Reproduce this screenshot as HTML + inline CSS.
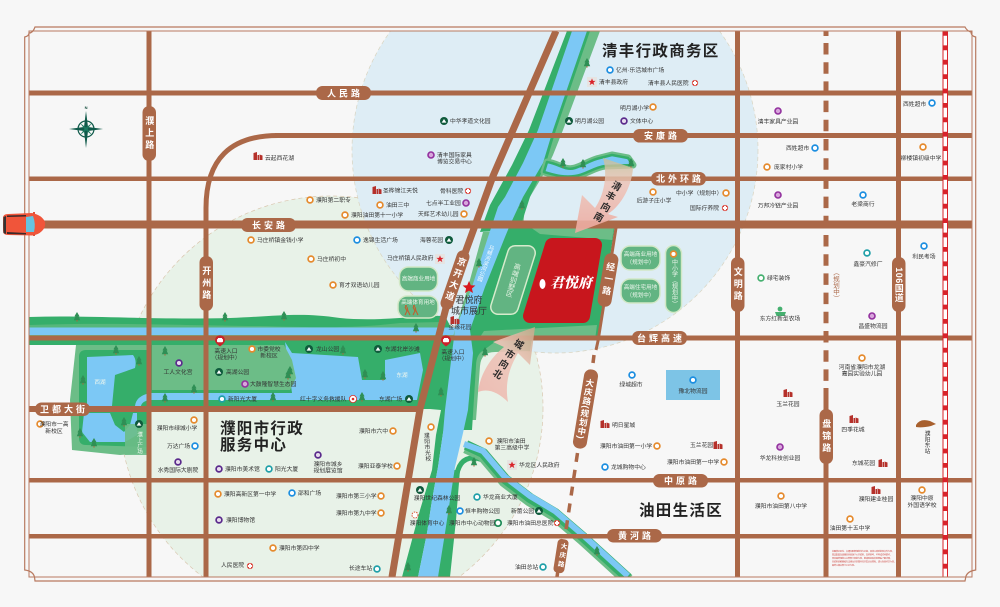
<!DOCTYPE html>
<html lang="zh">
<head>
<meta charset="utf-8">
<title>君悦府区位图</title>
<style>
html,body{margin:0;padding:0;background:#f7f7f7;width:1000px;height:607px;overflow:hidden}
svg{display:block}
text{font-family:"Liberation Sans","Noto Sans CJK SC",sans-serif}
.l{font-size:5.8px;fill:#333}
.m{font-size:5.8px;fill:#333;text-anchor:middle}
.w{font-size:5.6px;fill:#eef7ee;text-anchor:middle}
.p{font-size:9px;fill:#fff;text-anchor:middle;font-weight:700;letter-spacing:3px}
.pv{font-size:9px;fill:#fff;text-anchor:middle;font-weight:700;letter-spacing:3px;writing-mode:vertical-rl}
.vt{writing-mode:vertical-rl;text-anchor:middle}
.zone{font-size:15.5px;font-weight:700;fill:#222;letter-spacing:1.3px}
.ar{font-size:9.5px;font-weight:700;fill:#2a2a2a;text-anchor:middle}
.fine{font-size:2px;fill:#c8322c}
</style>
</head>
<body>
<svg xmlns="http://www.w3.org/2000/svg" width="1000" height="607" viewBox="0 0 1000 607">
<defs>
<clipPath id="cp"><rect x="29" y="31" width="943" height="546"/></clipPath>
<linearGradient id="gs" x1="0" y1="0" x2="0" y2="1"><stop offset="0" stop-color="#c9bf94" stop-opacity=".75"/><stop offset=".35" stop-color="#eec4b8" stop-opacity=".85"/><stop offset="1" stop-color="#eeaaa0" stop-opacity=".9"/></linearGradient>
<linearGradient id="gn" x1="1" y1="0" x2="0" y2="1"><stop offset="0" stop-color="#c9a98a" stop-opacity=".85"/><stop offset=".4" stop-color="#eec4b8" stop-opacity=".9"/><stop offset="1" stop-color="#edb9b0" stop-opacity=".95"/></linearGradient>
<g id="o"><circle r="2.9" fill="#fff" stroke="#e58a2d" stroke-width="1.7"/></g>
<g id="b"><circle r="2.9" fill="#fff" stroke="#1c8ee0" stroke-width="1.7"/></g>
<g id="t"><circle r="2.9" fill="#fff" stroke="#1f9fa8" stroke-width="1.7"/></g>
<g id="q"><circle r="3" fill="#d8a6dc" stroke="#92309e" stroke-width="1.6"/></g>
<g id="v"><circle r="2.9" fill="#e7dcee" stroke="#5a2a8c" stroke-width="1.7"/></g>
<g id="g"><circle r="4" fill="#0f5a3c"/><path d="M-2.4,1.6 L0,-2 L2.4,1.6Z" fill="#fff"/></g>
<g id="c"><circle r="3.1" fill="#d83a30"/><path d="M-1,-2.2H1V-1H2.2V1H1V2.2H-1V1H-2.2V-1H-1Z" fill="#fff"/></g>
<g id="h"><path d="M-4.5,4V-3L-1,-4V4ZM-0.5,4V-1H1V4ZM1.5,4V-1.5L4.5,-0.5V4Z" fill="#b5302a"/></g>
<g id="s"><path d="M0,-3.6 L1,-1.1 3.6,-1.1 1.5,.5 2.3,3.1 0,1.5 -2.3,3.1 -1.5,.5 -3.6,-1.1 -1,-1.1Z" fill="#d9232a"/></g>
<g id="r"><path d="M0,-6 L2.6,-1.6H1.6L3.2,2.2H-3.2L-1.6,-1.6H-2.6Z" fill="#2f8f55"/><rect x="-.5" y="2" width="1" height="1.6" fill="#a8653a"/></g>
<g id="pin"><path d="M0,5.5 C-2,3.8 -5,2 -5,-.8 A5,5 0 1 1 5,-.8 C5,2 2,3.8 0,5.5Z" fill="#c9222a"/><rect x="-3" y="-2.2" width="6" height="3.4" rx="1" fill="#fff"/><rect x="-2" y="-3" width="4" height="1.2" fill="#fff"/></g>
</defs>
<rect width="1000" height="607" fill="#f7f7f7"/>

<g clip-path="url(#cp)">
<circle cx="331" cy="408" r="212" fill="#e8f2e8" stroke="#d9c6ae" stroke-width=".7" stroke-dasharray="4 3"/>
<circle cx="555" cy="150" r="203" fill="#deedf5" stroke="#d9d4c0" stroke-width=".7" stroke-dasharray="4 3"/>

<path d="M29,317 C90,315 150,320 230,318 C280,316 300,312 340,318 C380,322 420,315 445,316 L460,345 L29,345Z" fill="#35ae6a"/>
<path d="M29,325 C120,322 200,326 260,326 C300,327 350,329 400,323 L440,322 L440,329 L29,329Z" fill="#6cbd87" opacity=".6"/>
<rect x="29" y="327.5" width="430" height="7.5" fill="#7cc8f5"/>
<rect x="29" y="335" width="430" height="3" fill="#6cbd87"/>

<rect x="150" y="340" width="290" height="69" fill="#35ae6a"/>
<path d="M150,393 H292 L285,342 L292,353 L358,357 L362,380 L385,380 L385,360 L420,353 L423,370 L417,400 H150Z" fill="#7cc8f5"/>
<path d="M152,345 H284 L292,360 L296,378 L290,390 H152Z" fill="#6cbd87"/>
<path d="M76,345 H148 V453 L120,455 L72,450 L70,400Z" fill="#6cbd87"/>
<path d="M86,350 H148 V447 L86,445 Q79,445 79,438 V357 Q79,350 86,350Z" fill="#35ae6a"/>
<path d="M87,357 L133,355 Q137,360 135,368 L115,375 L112,406 H87Z" fill="#7cc8f5"/>
<path d="M84,413 H110 L115,425 L124,432 L130,425 L133,413 H137 L137,435 L125,442 H90 L82,432Z" fill="#7cc8f5"/>
<path d="M135,406 Q136,396 150,393 V400 Q142,401 141,406Z" fill="#7cc8f5"/>
<rect x="125" y="424" width="25" height="31" fill="#6cbd87" opacity=".9"/>

<path d="M600,31 L563,130 L553,155 L545,172 L525,205 L523,228 L483,232 L468,287 L452,340 L484,340 L500,228 L483,228 L498,197 L518,163 L533,130 L567,31Z" fill="#6cbd87"/>
<path d="M590,31 L556,130 L546,163 L530,197 L520,228 L480,232 L490,205 L512,165 L529,130 L567,31Z" fill="#35ae6a"/>
<path d="M498,225 L615,225 L597,340 L452,340 L470,300Z" fill="#35ae6a"/>
<path d="M530,227 L614,227 L612,240 L540,234Z" fill="#6cbd87"/>
<path d="M484,331 L597,325 L595,340 L478,340Z" fill="#6cbd87"/>
<path d="M468,338 H532 L530,351 L495,352 Q481,352 480,366 L476,420 L466,420Z" fill="#6cbd87"/>
<path d="M468,338 H500 L484,350 Q476,354 476,366 L472,430 L462,430Z" fill="#35ae6a"/>
<path d="M433,338 H455 L450,400 L443,433 L438,467 L432,500 L427,533 L418,577 L402,577 L420,510 L432,470 L436,435 L441,410 L430,409Z" fill="#35ae6a"/>
<path d="M446,577 L452,520 L456,480 Q458,458 473,458 Q485,458 495,470" fill="none" stroke="#35ae6a" stroke-width="5"/>
<path d="M436,577 H450 L456,520 L460,470 L450,470 L440,530Z" fill="#35ae6a"/>
<path d="M587,31 L553,130 L543,163 L523,197 L510,225 L505,237 L485,287 L470,330 L473,353 L468,410 L463,433 L455,467 L450,500 L445,533 L438,577 L418,577 L427,533 L432,500 L438,467 L443,433 L445,410 L452,353 L455,330 L472,287 L488,237 L498,207 L505,197 L523,163 L538,130 L572,31Z" fill="#7cc8f5"/>

<path d="M547,162 C560,164 565,171 575,168 C585,165 590,160 600,158 L612,155 L628,158 L633,165 L605,166 C595,167 585,175 575,176 C562,178 552,174 544,172Z" fill="#7cc8f5" stroke="#6cbd87" stroke-width="7" stroke-linejoin="round"/>
<path d="M547,162 C560,164 565,171 575,168 C585,165 590,160 600,158 L612,155 L628,158 L633,165 L605,166 C595,167 585,175 575,176 C562,178 552,174 544,172Z" fill="#7cc8f5" stroke="#35ae6a" stroke-width="2.5" stroke-linejoin="round"/>

<path d="M466,447 L483,455 L505,481 L530,500 L555,515 L583,539 L605,559 L628,580" fill="none" stroke="#6cbd87" stroke-width="13"/>
<path d="M466,445 L483,453 L505,479 L530,498 L555,513 L583,537 L605,557 L628,578" fill="none" stroke="#35ae6a" stroke-width="10"/>
<path d="M464,444 L483,451 L505,477 L530,496 L555,511 L583,535 L605,555 L628,576" fill="none" stroke="#7cc8f5" stroke-width="6"/>

<rect x="666" y="370" width="54" height="30" fill="#7dc4e6"/>

<g fill="#ab6848">
<rect x="29" y="90.5" width="943" height="5"/>
<rect x="275" y="133" width="697" height="5"/>
<rect x="29" y="176.5" width="943" height="4.5"/>
<rect x="42" y="220.5" width="930" height="8"/>
<rect x="29" y="335.5" width="943" height="5"/>
<rect x="29" y="406" width="392" height="6"/>
<rect x="29" y="478" width="943" height="4.5"/>
<rect x="29" y="534" width="943" height="4.5"/>
<rect x="146.5" y="31" width="5" height="546"/>
<rect x="735" y="31" width="5" height="546"/>
<rect x="896" y="31" width="5" height="546"/>
<rect x="823.5" y="31" width="5" height="5"/>
<rect x="823.5" y="388" width="5" height="189"/>
</g>
<path d="M206,577 V208 Q206,135 279,135.5" fill="none" stroke="#ab6848" stroke-width="5"/>
<path d="M826,43 V388" fill="none" stroke="#ab6848" stroke-width="5" stroke-dasharray="11.5 7.7"/>
<path d="M556,31 L493,176 L448,300 L420,409 L392,577" fill="none" stroke="#ab6848" stroke-width="7"/>
<path d="M616,228 L598,341 L596,350" fill="none" stroke="#ab6848" stroke-width="3"/>
<path d="M594,355 L593,363" fill="none" stroke="#ab6848" stroke-width="3.5"/>
<path d="M577.5,453 L566,530" fill="none" stroke="#ab6848" stroke-width="3.5" stroke-dasharray="9 8"/>
<path d="M558,570 L557,577" fill="none" stroke="#ab6848" stroke-width="3.5"/>
<rect x="943" y="31" width="5" height="546" fill="#fff"/>
<path d="M943,31V577M947.5,31V577" stroke="#d8232a" stroke-width="1" fill="none"/>
<path d="M945.2,31V577" stroke="#d8232a" stroke-width="4.5" stroke-dasharray="4.8 9.6" fill="none"/>
</g>

<path d="M35,27 H965 Q967,31 971,32 Q971,36 975.7,37 V570 Q968,571 966,576 L965,581 H35 L34.5,577 Q33,571 24.7,570 V37 Q29,36 29,33 Q33,33 35,27Z" fill="none" stroke="#b87a60" stroke-width="1.2"/>
<rect x="29" y="31" width="943" height="546" fill="none" stroke="#b87a60" stroke-width="1"/>

<path d="M552,245 H595 L583,316 H530Z" fill="#c8161d" stroke="#c8161d" stroke-width="14" stroke-linejoin="round"/>
<ellipse cx="542.5" cy="284" rx="3" ry="5" fill="#fff"/>
<text x="571" y="287.5" text-anchor="middle" style="font-family:'Noto Serif CJK SC',serif;font-size:14px;font-weight:900;fill:#fff;font-style:italic">君悦府</text>

<path d="M515,253 L528,253 L511,307 L498,307Z" fill="#62b482" stroke="#d6ebcc" stroke-width="16" stroke-linejoin="round"/>
<path d="M515,253 L528,253 L511,307 L498,307Z" fill="#62b482" stroke="#62b482" stroke-width="13" stroke-linejoin="round"/>
<text transform="translate(513,280) rotate(16)" class="vt" style="font-size:7px;fill:#e8f4e6">高端别墅区</text>
<text transform="translate(485,263) rotate(20)" class="vt" style="font-size:5.5px;fill:#fff">马颊河滨河公园</text>

<g fill="#62b482" stroke="#d2e8c6" stroke-width="1.5">
<rect x="621" y="246" width="39" height="24" rx="9"/>
<rect x="621" y="279" width="39" height="24" rx="9"/>
<rect x="665.5" y="245.5" width="16" height="67" rx="8"/>
<rect x="399.5" y="267" width="38" height="24" rx="9"/>
<rect x="398" y="296" width="40" height="22" rx="9"/>
</g>
<text x="640.5" y="256" class="w">高端商业用地</text>
<text x="640.5" y="264" class="w">（规划中）</text>
<text x="640.5" y="289" class="w">高端住宅用地</text>
<text x="640.5" y="297" class="w">（规划中）</text>
<use href="#o" x="673.5" y="254"/>
<text x="673.5" y="283" class="vt" style="font-size:6px;fill:#eef7ee">中小学（规划中）</text>
<text x="418.5" y="280.5" class="w">高端商业用地</text>
<text x="418" y="304" class="w">高端体育用地</text>
<path d="M405,307l2,4-2,4M407,307l1,4 2,4M413,307l2,4-2,4M415,307l1,4 2,4" stroke="#c65a2a" stroke-width="1" fill="none"/>
<circle cx="406" cy="306" r="1" fill="#c65a2a"/><circle cx="414" cy="306" r="1" fill="#c65a2a"/>

<path d="M603,158 L633,168 C632,185 622,205 608,214 L618,217 L575,233 L582,195 L595,208 C604,195 608,175 603,158Z" fill="url(#gs)"/>
<text transform="translate(615,189) rotate(30)" class="ar">清</text>
<text transform="translate(609,199) rotate(30)" class="ar">丰</text>
<text transform="translate(604,210) rotate(30)" class="ar">向</text>
<text transform="translate(597,220) rotate(30)" class="ar">南</text>
<path d="M535,327 L530,365 L518,353 C508,370 505,385 508,402 C498,392 488,388 478,392 C480,375 490,358 504,347 L493,342Z" fill="url(#gn)"/>
<text transform="translate(517,347) rotate(33)" class="ar">城</text>
<text transform="translate(508,357) rotate(33)" class="ar">市</text>
<text transform="translate(502,367) rotate(33)" class="ar">向</text>
<text transform="translate(496,377) rotate(33)" class="ar">北</text>

<g fill="#ab6848">
<rect x="316" y="86" width="55" height="14" rx="6.5"/>
<rect x="633" y="129" width="55" height="13.5" rx="6.5"/>
<rect x="651" y="172" width="55" height="13.5" rx="6.5"/>
<rect x="241" y="218" width="55" height="14" rx="6.5"/>
<rect x="632" y="331" width="55" height="14" rx="6.5"/>
<rect x="35" y="402.5" width="55" height="13.5" rx="6.5"/>
<rect x="653" y="474" width="55" height="13.5" rx="6.5"/>
<rect x="607" y="529" width="55" height="13.5" rx="6.5"/>
<rect x="142.5" y="106" width="13.5" height="55" rx="6.5"/>
<rect x="199.5" y="256" width="13.5" height="55" rx="6.5"/>
<rect x="731" y="257" width="13.5" height="55" rx="6.5"/>
<rect x="892" y="257" width="13.5" height="55" rx="6.5"/>
<rect x="819.5" y="409" width="13.5" height="55" rx="6.5"/>
<rect transform="translate(455,280) rotate(19)" x="-6.5" y="-31" width="13" height="62" rx="6.5"/>
<rect transform="translate(608,280) rotate(9.5)" x="-7" y="-27" width="14" height="54" rx="6.5"/>
<rect transform="translate(585.5,409) rotate(9.5)" x="-7" y="-40" width="14" height="80" rx="6.5"/>
<rect transform="translate(561,556) rotate(9)" x="-5.5" y="-17" width="11" height="34" rx="4"/>
</g>
<text x="345" y="96.5" class="p">人民路</text>
<text x="662" y="139" class="p">安康路</text>
<text x="680" y="182" class="p">北外环路</text>
<text x="270" y="228.5" class="p">长安路</text>
<text x="661" y="341.5" class="p">台辉高速</text>
<text x="64" y="412.5" class="p">卫都大街</text>
<text x="682" y="484" class="p">中原路</text>
<text x="636" y="539" class="p">黄河路</text>
<text x="149.3" y="134" class="pv">濮上路</text>
<text x="206.3" y="284" class="pv">开州路</text>
<text x="737.8" y="285" class="pv">文明路</text>
<text x="826.3" y="437" class="pv">盘锦路</text>
<text x="898.8" y="285" class="pv" style="letter-spacing:.5px">106国道</text>
<text transform="translate(455,280) rotate(19)" class="pv" style="letter-spacing:3px">京开大道</text>
<text transform="translate(608,280) rotate(9.5)" class="pv" style="letter-spacing:3px">经一路</text>
<text transform="translate(585.5,409) rotate(9.5)" class="pv" style="font-size:8.5px;letter-spacing:.6px">大庆路(规划中)</text>
<text transform="translate(561,556) rotate(9)" class="pv" style="font-size:6.5px;letter-spacing:2.5px">大庆路</text>
<text x="835" y="285" class="vt" style="font-size:6.5px;fill:#ab6848">（规划中）</text>

<text x="602" y="56" class="zone">清丰行政商务区</text>
<text x="220" y="433.5" class="zone">濮阳市行政</text>
<text x="220" y="450" class="zone">服务中心</text>
<text x="639" y="515.5" class="zone">油田生活区</text>

<g>
<use href="#r" x="77" y="318"/><use href="#r" x="225" y="318"/><use href="#r" x="284" y="317"/>
<use href="#r" x="416" y="329"/><use href="#r" x="165" y="352"/><use href="#r" x="116" y="351"/>
<use href="#r" x="194" y="390"/><use href="#r" x="165" y="399"/><use href="#r" x="273" y="398"/>
<use href="#r" x="83" y="381"/><use href="#r" x="139" y="362"/><use href="#r" x="124" y="423"/>
<use href="#r" x="80" y="434"/><use href="#r" x="94" y="444"/><use href="#r" x="343" y="351"/>
<use href="#r" x="290" y="372"/><use href="#r" x="365" y="375"/><use href="#r" x="383" y="377"/>
<use href="#r" x="362" y="398"/><use href="#r" x="441" y="393"/><use href="#r" x="485" y="353"/>
<use href="#r" x="474" y="463"/><use href="#r" x="449" y="511"/><use href="#r" x="408" y="568"/>
<use href="#r" x="597" y="552"/><use href="#r" x="522" y="206"/><use href="#r" x="479" y="264"/>
<use href="#r" x="587" y="64"/><use href="#r" x="563" y="164"/><use href="#r" x="583" y="165"/>
<use href="#r" x="631" y="164"/><use href="#r" x="288" y="376"/>
</g>

<g>
<use href="#h" x="258" y="156"/><use href="#g" x="444" y="121"/><use href="#q" x="431" y="155"/>
<use href="#h" x="377" y="190"/><use href="#c" x="468" y="191"/><use href="#o" x="310" y="200"/>
<use href="#o" x="380" y="205"/><use href="#q" x="466" y="203"/><use href="#o" x="345" y="215"/>
<use href="#o" x="464" y="214"/><use href="#o" x="251" y="240"/><use href="#b" x="357" y="240"/>
<use href="#g" x="449" y="240"/><use href="#o" x="311" y="259"/><use href="#o" x="333" y="285"/>
<use href="#h" x="455" y="320"/>
<use href="#b" x="610" y="70"/><use href="#c" x="695" y="83"/><use href="#o" x="653" y="107"/>
<use href="#g" x="569" y="121"/><use href="#v" x="624" y="121"/><use href="#q" x="778" y="111"/>
<use href="#b" x="815" y="148"/><use href="#b" x="932" y="103"/><use href="#o" x="767" y="167"/>
<use href="#o" x="923" y="147"/><use href="#o" x="653" y="192"/><use href="#o" x="726" y="193"/>
<use href="#c" x="725" y="208"/><use href="#q" x="778" y="195"/><use href="#b" x="863" y="195"/>
<use href="#b" x="924" y="246"/><use href="#t" x="867" y="253"/>
<circle cx="761" cy="278" r="2.9" fill="#fff" stroke="#46b070" stroke-width="1.7"/>
<path d="M775,312 h11 l-1.5,4 h-8Z" fill="#46b070"/><circle cx="780" cy="309" r="2.4" fill="#46b070"/>
<use href="#q" x="872" y="316"/><use href="#o" x="862" y="358"/><use href="#b" x="632" y="375"/>
<use href="#b" x="693" y="380"/><use href="#h" x="788" y="393"/><use href="#h" x="854" y="419"/>
<use href="#h" x="605" y="424"/><use href="#o" x="657" y="446"/><use href="#h" x="718" y="445"/>
<use href="#q" x="780" y="447"/><use href="#h" x="883" y="463"/><use href="#b" x="605" y="467"/>
<use href="#o" x="724" y="462"/><use href="#o" x="781" y="496"/><use href="#h" x="876" y="490"/>
<use href="#o" x="922" y="490"/><use href="#o" x="850" y="519"/><use href="#t" x="543" y="567"/>
<use href="#pin" x="220" y="341"/><use href="#pin" x="446" y="341"/>
<use href="#o" x="252" y="349"/><use href="#g" x="309" y="349"/><use href="#g" x="378" y="349"/>
<use href="#v" x="179" y="363"/><use href="#g" x="219" y="372"/><use href="#q" x="245" y="384"/>
<use href="#t" x="222" y="399"/><circle cx="353" cy="399" r="3.6" fill="#fff" stroke="#d8312a" stroke-width=".8"/><circle cx="353" cy="399" r="1.3" fill="#d8312a"/>
<use href="#g" x="409" y="399"/><use href="#o" x="40" y="424"/><use href="#g" x="139" y="424"/>
<use href="#o" x="194" y="420"/><use href="#b" x="195" y="446"/><use href="#v" x="178" y="462"/>
<use href="#o" x="393" y="431"/><use href="#v" x="318" y="455"/><use href="#o" x="397" y="466"/>
<use href="#v" x="219" y="469"/><use href="#t" x="269" y="469"/><use href="#o" x="218" y="494"/>
<use href="#b" x="292" y="493"/><use href="#o" x="381" y="496"/><use href="#o" x="381" y="513"/>
<use href="#v" x="219" y="520"/><use href="#o" x="273" y="548"/><use href="#c" x="250" y="566"/>
<use href="#t" x="377" y="569"/><use href="#o" x="431" y="427"/><use href="#o" x="489" y="441"/>
<use href="#g" x="420" y="490"/><use href="#t" x="477" y="497"/><use href="#b" x="460" y="511"/>
<use href="#g" x="539" y="511"/>
<circle cx="415" cy="515" r="3" fill="#fff" stroke="#d85a3a" stroke-width="1" stroke-dasharray="1.5 1"/>
<circle cx="498" cy="523" r="3.2" fill="#fff" stroke="#1d8a55" stroke-width="1.7"/>
<use href="#c" x="557" y="523"/>
</g>
<rect x="587" y="77" width="10" height="10" fill="#e6e4e2"/><use href="#s" x="592" y="82"/>
<rect x="507" y="460" width="10" height="10" fill="#e6e4e2"/><use href="#s" x="512" y="465"/>
<rect x="435" y="254" width="10" height="10" fill="#e6e4e2"/><use href="#s" x="440" y="259"/>
<path d="M469,281 L470.8,285.2 475.4,285.5 471.9,288.5 473,293 469,290.6 465,293 466.1,288.5 462.6,285.5 467.2,285.2Z" fill="#d8181f"/>

<g>
<text x="265" y="160" class="l">云起西花湖</text>
<text x="450" y="123" class="l">中华孝道文化园</text>
<text x="437" y="157" class="l">清丰国际家具</text>
<text x="437" y="163.5" class="l">博览交易中心</text>
<text x="383" y="192.5" class="l">圣桦锦江天悦</text>
<text x="440" y="193" class="l">骨科医院</text>
<text x="316" y="202" class="l">濮阳第二职专</text>
<text x="386" y="207" class="l">油田三中</text>
<text x="426" y="205" class="l">七点半工业园</text>
<text x="351" y="217" class="l">濮阳油田第十一小学</text>
<text x="418" y="216" class="l">天辉艺术幼儿园</text>
<text x="257" y="242" class="l">马庄桥镇金钱小学</text>
<text x="363" y="242" class="l">逸锦生活广场</text>
<text x="420" y="242" class="l">海蓉花园</text>
<text x="317" y="261" class="l">马庄桥初中</text>
<text x="387" y="260" class="l">马庄桥镇人民政府</text>
<text x="339" y="287" class="l">育才双语幼儿园</text>
<text x="469" y="303" class="m" style="font-size:9px">君悦府</text>
<text x="469" y="314" class="m" style="font-size:9px">城市展厅</text>
<text x="460" y="329" class="m">金缘花园</text>

<text x="616" y="72" class="l">亿州·乐活城市广场</text>
<text x="599" y="84" class="l">清丰县政府</text>
<text x="648" y="85" class="l">清丰县人民医院</text>
<text x="620" y="110" class="l">明月湖小学</text>
<text x="575" y="123" class="l">明月湖公园</text>
<text x="630" y="123" class="l">文体中心</text>
<text x="778" y="123.5" class="m">清丰家具产业园</text>
<text x="786" y="150" class="l">西姓超市</text>
<text x="903" y="106" class="l">西姓超市</text>
<text x="774" y="169" class="l">庞家村小学</text>
<text x="921" y="160" class="m">柳楼镇初级中学</text>
<text x="654" y="202.5" class="m">后游子庄小学</text>
<text x="676" y="195" class="l">中小学（规划中）</text>
<text x="690" y="210" class="l">国际疗养院</text>
<text x="778" y="207.5" class="m">万邦冷链产业园</text>
<text x="863" y="206" class="m">老梁商行</text>
<text x="924" y="258.5" class="m">利民考场</text>
<text x="868" y="266" class="m">鑫豪汽修厂</text>
<text x="767" y="280" class="l">绿宅装饰</text>
<text x="780" y="320.5" class="m">东方红新型农场</text>
<text x="873" y="328" class="m">昌盛物流园</text>
<text x="862" y="369" class="m">河南省濮阳市龙湖</text>
<text x="862" y="375.5" class="m">嘉园实验幼儿园</text>
<text x="631" y="386.5" class="m">绿城超市</text>
<text x="693" y="393" class="m">豫北物流园</text>
<text x="788" y="406" class="m">玉兰花园</text>
<text x="853" y="431.5" class="m">四季花城</text>
<text x="926" y="442" class="vt" style="font-size:5.8px;fill:#333">濮阳东站</text>
<text x="612" y="427" class="l">明日星城</text>
<text x="600" y="448" class="l">濮阳市油田第一小学</text>
<text x="690" y="447" class="l">玉兰花园</text>
<text x="780" y="460" class="m">华龙科技创业园</text>
<text x="852" y="465" class="l">东城花园</text>
<text x="611" y="469" class="l">龙城购物中心</text>
<text x="667" y="464" class="l">濮阳市油田第一中学</text>
<text x="519" y="467" class="l">华龙区人民政府</text>
<text x="781" y="508" class="m">濮阳市油田第八中学</text>
<text x="876" y="501" class="m">濮阳建业桂园</text>
<text x="922" y="500" class="m">濮阳中原</text>
<text x="922" y="507" class="m">外国语学校</text>
<text x="850" y="530" class="m">油田第十五中学</text>
<text x="515" y="569" class="l">油田总站</text>

<text x="226" y="353" class="m">高速入口</text>
<text x="226" y="359.5" class="m">（规划中）</text>
<text x="269" y="351" class="m">市委党校</text>
<text x="269" y="357.5" class="m">新校区</text>
<text x="316" y="351" class="l">龙山公园</text>
<text x="385" y="351" class="l">东湖北岸沙滩</text>
<text x="453" y="354" class="m">高速入口</text>
<text x="453" y="360.5" class="m">（规划中）</text>
<text x="178" y="374" class="m">工人文化宫</text>
<text x="226" y="374" class="l">高湖公园</text>
<text x="250" y="386" class="l">大鼓隆智慧生态园</text>
<text x="100" y="384" class="w">西湖</text>
<text x="402" y="377" class="w">东湖</text>
<text x="228" y="401" class="l">新阳光大厦</text>
<text x="300" y="401" class="l">红十字义务救援队</text>
<text x="379" y="401" class="l">东湖广场</text>
<text x="54" y="426" class="m">濮阳市一高</text>
<text x="54" y="433" class="m">新校区</text>
<text x="139" y="443" class="vt" style="font-size:5.6px;fill:#eef7ee">濮上广场</text>
<text x="177" y="430" class="m">濮阳市绿城小学</text>
<text x="167" y="448" class="l">万达广场</text>
<text x="178" y="472" class="m">水秀国际大剧院</text>
<text x="359" y="433" class="l">濮阳市六中</text>
<text x="328" y="466" class="m">濮阳市城乡</text>
<text x="328" y="472.5" class="m">规划展览馆</text>
<text x="358" y="468" class="l">濮阳亚泰学校</text>
<text x="225" y="471" class="l">濮阳市美术馆</text>
<text x="275" y="471" class="l">阳光大厦</text>
<text x="224" y="496" class="l">濮阳高新区第一中学</text>
<text x="298" y="495" class="l">邵和广场</text>
<text x="336" y="498" class="l">濮阳市第三小学</text>
<text x="336" y="515" class="l">濮阳市第九中学</text>
<text x="226" y="522" class="l">濮阳博物馆</text>
<text x="279" y="550" class="l">濮阳市第四中学</text>
<text x="221" y="567" class="l">人民医院</text>
<text x="349" y="570" class="l">长途车站</text>
<text transform="translate(426,447) rotate(-4)" class="vt" style="font-size:5.8px;fill:#333">濮阳市光校</text>
<text x="511" y="443" class="m">濮阳市油田</text>
<text x="512" y="449.5" class="m">第三高级中学</text>
<text x="437" y="500" class="m">濮阳世纪森林公园</text>
<text x="483" y="499" class="l">华龙商业大厦</text>
<text x="465" y="513" class="l">恒丰购物公园</text>
<text x="511" y="513" class="l">新蕾公园</text>
<text x="427" y="525" class="m">濮阳体育中心</text>
<text x="449" y="525" class="l">濮阳市中心动物园</text>
<text x="507" y="525" class="l">濮阳市油田总医院</text>
</g>

<path d="M916,425 Q920,418 930,421 L936,424 L931,426 Q922,428 916,427Z" fill="#a8602e"/>

<g class="fine">
<text x="832" y="552">本图所示区位、交通及配套规划均为示意，具体以政府批准文件为准，</text>
<text x="832" y="555.5">周边配套及道路信息来源于公开资料，仅供参考，不构成任何要约，</text>
<text x="832" y="559">项目最终规划以主管部门审批为准，敬请购房者实地查看了解详情，</text>
<text x="832" y="562.5">本资料的解释权在法律允许范围内归开发企业所有，请以合同约定为准。</text>
<text x="832" y="566">最终以相关部门公示为准。</text>
</g>

<g transform="translate(86,129)">
<text x="0" y="-20" text-anchor="middle" style="font-size:4px;fill:#0f4a3a;font-weight:700">N</text>
<circle r="8" fill="none" stroke="#0f5a4a" stroke-width="1.2"/>
<path d="M0,-18 L2,-2 L17,0 L2,2 L0,19 L-2,2 L-17,0 L-2,-2Z" fill="#0f5a4a"/>
<path d="M-6,-6 L0,-1.5 L6,-6 L1.5,0 L6,6 L0,1.5 L-6,6 L-1.5,0Z" fill="#1a7a60"/>
</g>

<g>
<path d="M3,218 Q3,214 8,214 L32,213 Q42,215 45,222 Q46,227 42,231 Q38,235 32,235.5 L8,235 Q3,235 3,231Z" fill="#f0553a"/>
<path d="M3.5,217 Q3,224 3.5,233 L6,234 L6,216Z" fill="#333"/>
<path d="M7,215.5 L26,215 V216.5 L7,217ZM7,232 L26,233 V234.5 L7,234Z" fill="#3a2a2a"/>
<path d="M26,217 L33,216 Q36,224 34,232 L26,232Z" fill="#66c3e0"/>
<rect x="33" y="212" width="2" height="2" fill="#e0513a"/><rect x="33" y="234" width="2" height="2" fill="#e0513a"/>
</g>
</svg>
</body>
</html>
